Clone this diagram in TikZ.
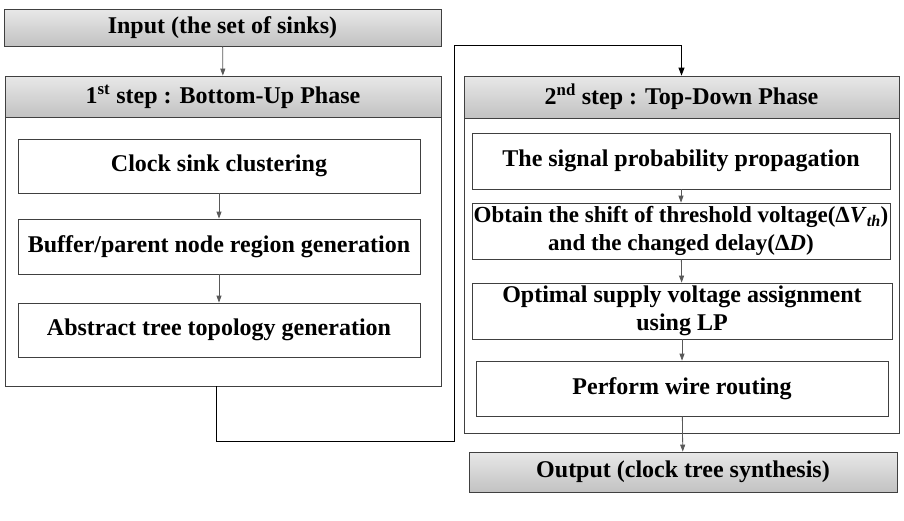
\documentclass[tikz,border=0pt]{standalone}
\usepackage{fontspec}
\setmainfont{Liberation Serif}
\usetikzlibrary{arrows.meta}
\newcommand{\boxfont}{\fontsize{24}{28}\selectfont\bfseries}
\tikzset{
	headbox/.style={draw=black!75, top color=black!9, bottom color=black!24, font=\boxfont, inner sep=2pt},
	panelbox/.style={draw=black!75, fill=white},
	stepbox/.style={draw=black!75, fill=white, font=\boxfont, align=center, inner sep=2pt},
	flow/.style={draw=black!65, -{Triangle[length=7pt,width=5pt]}}
}
\begin{document}
\begin{tikzpicture}[x=1pt, y=-1pt, line width=0.8pt]
			\useasboundingbox (0,0) rectangle (904,520);
			% left column
			\node[headbox, minimum width=437pt, minimum height=37pt] (input) at (222.5,27.5) {Input (the set of sinks)};
			\node[panelbox, minimum width=436pt, minimum height=310pt] (leftpanel) at (223,231) {};
			\node[headbox, minimum width=436pt, minimum height=41pt] (lefthead) at (223,96.5) {1\textsuperscript{st} step : Bottom-Up Phase};
			\node[stepbox, minimum width=402pt, minimum height=54pt] (clock) at (219,166) {Clock sink clustering};
			\node[stepbox, minimum width=402pt, minimum height=55pt] (buffer) at (219,246.5) {Buffer/parent node region generation};
			\node[stepbox, minimum width=402pt, minimum height=54pt] (abstract) at (219,330) {Abstract tree topology generation};
			% right column
			\node[panelbox, minimum width=435pt, minimum height=357pt] (rightpanel) at (681.5,254.5) {};
			\node[headbox, minimum width=435pt, minimum height=42pt] (righthead) at (681.5,97) {2\textsuperscript{nd} step : Top-Down Phase};
			\node[stepbox, minimum width=418pt, minimum height=56pt] (signal) at (681,161) {The signal probability propagation};
			\node[stepbox, minimum width=418pt, minimum height=56pt, inner sep=1pt, font=\fontsize{23}{27.5}\selectfont\bfseries] (obtain) at (681,231) {Obtain the shift of threshold voltage(Δ\textit{V}\textsubscript{\textit{th}})\\and the changed delay(Δ\textit{D})};
			\node[stepbox, minimum width=420pt, minimum height=56pt] (optimal) at (682,311) {Optimal supply voltage assignment\\using LP};
			\node[stepbox, minimum width=412pt, minimum height=55pt] (perform) at (682,388.5) {Perform wire routing};
			\node[headbox, minimum width=428pt, minimum height=40pt] (output) at (683,472) {Output (clock tree synthesis)};
			% arrows
			\draw[flow] (input) -- (lefthead);
			\draw[flow] (clock) -- (buffer);
			\draw[flow] (buffer) -- (abstract);
			\draw[flow] (signal) -- (obtain);
			\draw[flow] (obtain) -- (optimal);
			\draw[flow] (optimal) -- (perform);
			\draw[flow] (perform) -- (output);
			\coordinate (turn) at (454,441);
			\coordinate (rise) at (454,45);
			\draw[-{Triangle[length=8pt,width=6pt]}] ([xshift=-7pt]leftpanel.south) |- (turn) -- (rise) -| (righthead.north);
		\end{tikzpicture}
\end{document}
